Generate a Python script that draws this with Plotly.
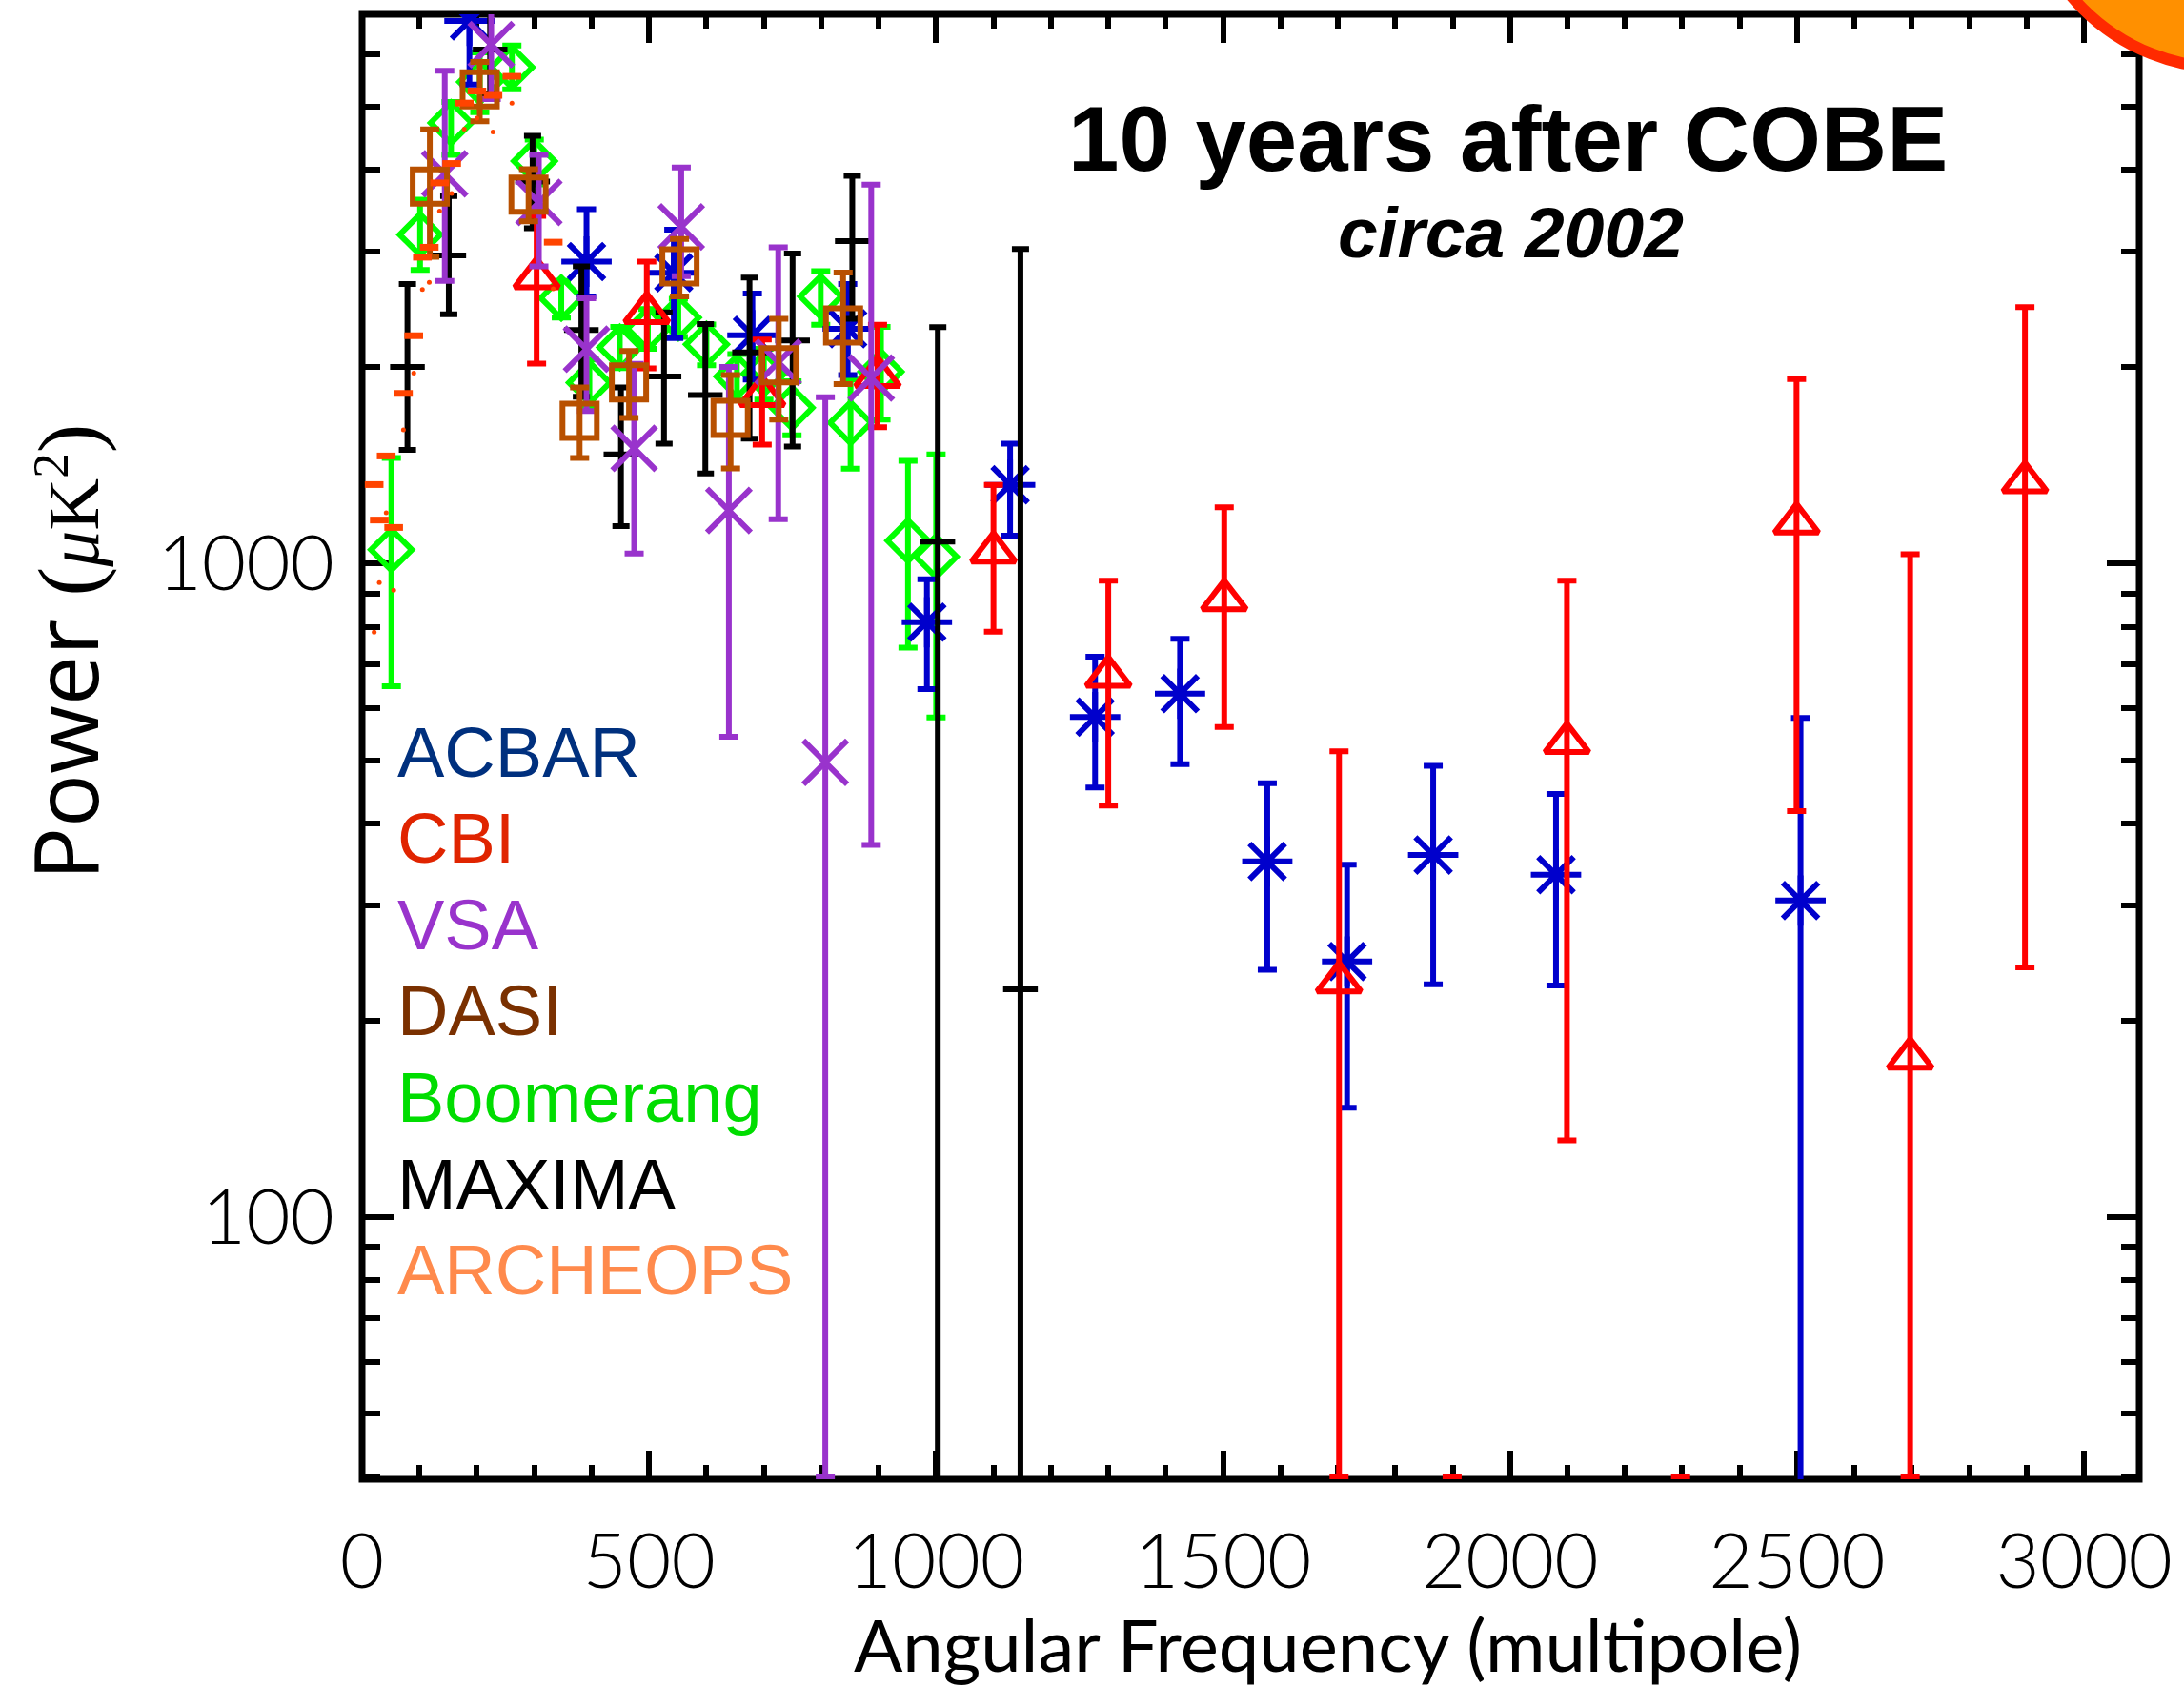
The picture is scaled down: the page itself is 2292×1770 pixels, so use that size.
import plotly.graph_objects as go

# ---------------- data (multipole l, power, upper bound, lower bound) ----------------
acbar_l  = [187, 391, 543, 680, 846, 984, 1129, 1277, 1425, 1577, 1716, 1866, 2080, 2506]
acbar_p  = [6760, 2895, 2784, 2234, 2285, 813, 1319, 582, 632, 350, 246, 358, 334, 305]
acbar_hi = [9000, 3483, 3240, 2588, 2676, 946, 1524, 720, 767, 461, 346, 490, 444, 580]
acbar_lo = [5400, 2560, 2211, 1910, 1941, 642, 1103, 454, 493, 239, 147, 227, 226, 10]

cbi_l  = [304, 496, 697, 898, 1100, 1300, 1502, 1702, 1899, 2099, 2297, 2499, 2697, 2897]
cbi_p  = [2735, 2420, 1806, 1932, 1041, 672, 880, 229, 20, 532, 20, 1153, 175, 1333]
cbi_hi = [3400, 2895, 2201, 2317, 1318, 941, 1219, 516, 40, 941, 40, 1914, 1033, 2466]
cbi_lo = [2021, 1987, 1519, 1615, 786, 426, 562, 40, 10, 131, 10, 418, 40, 241]

vsa_l  = [144, 225, 308, 391, 474, 556, 639, 725, 807, 887]
vsa_p  = [3945, 6218, 3565, 2126, 1500, 3272, 1205, 2030, 496, 1921]
vsa_hi = [5672, 9000, 4218, 2544, 2020, 4034, 1998, 3045, 1795, 3795]
vsa_lo = [2704, 5133, 2846, 1710, 1035, 2750, 543, 1168, 40, 371]

dasi_l  = [118, 205, 290, 379, 465, 553, 642, 726, 838]
dasi_p  = [3770, 5310, 3665, 1652, 1891, 2846, 1669, 2010, 2311]
dasi_hi = [4613, 5850, 4010, 1858, 2114, 3134, 1942, 2366, 2786]
dasi_lo = [2943, 4746, 3335, 1450, 1669, 2560, 1397, 1660, 1880]

boom_l  = [51, 101, 155, 205, 261, 300, 347, 396, 449, 498, 551, 600, 653, 700, 749, 799, 851, 904, 951, 1000]
boom_p  = [1049, 3184, 4720, 5450, 5740, 4125, 2547, 1890, 2140, 2286, 2377, 2163, 1931, 1950, 1730, 2560, 1641, 1964, 1083, 1024]
boom_hi = [1450, 3600, 5080, 6050, 6200, 4450, 2705, 2050, 2300, 2450, 2540, 2320, 2090, 2130, 1900, 2800, 1911, 2300, 1435, 1468]
boom_lo = [649, 2812, 4218, 4900, 5310, 3800, 2377, 1740, 1990, 2130, 2220, 2010, 1780, 1780, 1570, 2318, 1396, 1660, 743, 581]

maxima_l  = [79, 151, 223, 297, 382, 451, 526, 598, 675, 750, 854, 1003, 1147]
maxima_p  = [1998, 2958, 6110, 3838, 2275, 1468, 1932, 1810, 2102, 2192, 3112, 1080, 223]
maxima_hi = [2676, 3648, 7400, 4511, 2846, 1858, 2421, 2323, 2736, 2979, 3917, 2299, 3026]
maxima_lo = [1492, 2404, 5225, 3257, 1798, 1140, 1524, 1373, 1552, 1509, 2366, 10, 10]

archeops_l  = [21, 30, 42, 55, 72, 90, 105, 117, 135, 156, 178, 200, 228, 261, 333]
archeops_hi = [1320, 1165, 1460, 1135, 1820, 2230, 2940, 3045, 3820, 4090, 5060, 5280, 5200, 5560, 3100]
archeops_lo = [785, 935, 1195, 910, 1600, 1955, 2625, 2690, 3460, 3680, 4615, 4800, 4570, 5060, 2630]

x_ticks = [0, 500, 1000, 1500, 2000, 2500, 3000]

legend_names  = ["ACBAR", "CBI", "VSA", "DASI", "Boomerang", "MAXIMA", "ARCHEOPS"]
legend_colors = ["#00307E", "#E02400", "#9933CC", "#7A3000", "#00DD00", "#000000", "#FF8A4C"]

C_ACBAR, C_CBI, C_VSA, C_DASI, C_BOOM, C_MAX, C_ARCH = (
    "#0000CC", "#FF0000", "#9933CC", "#B85000", "#00FF00", "#000000", "#FF4400")

# ---------------- figure ----------------
W, H = 2292, 1770
ML, MR, MT, MB = 380, 42, 15, 218
PW, PH = W - ML - MR, H - MT - MB


def px(X):
    return (X - ML) / PW


def py(Y):
    return (H - MB - Y) / PH


def err(p, hi, lo):
    return [h - v for h, v in zip(hi, p)], [v - l for v, l in zip(p, lo)]


fig = go.Figure()


def add_series(l, p, hi, lo, color, symbol, size, mlw, capw=10):
    plus, minus = err(p, hi, lo)
    fig.add_trace(go.Scatter(
        x=l, y=p, mode="markers", showlegend=False,
        marker=dict(symbol=symbol, size=size, color=color,
                    line=dict(color=color, width=mlw)),
        error_y=dict(type="data", symmetric=False, array=plus, arrayminus=minus,
                     color=color, thickness=6, width=capw),
    ))


add_series(boom_l, boom_p, boom_hi, boom_lo, C_BOOM, "diamond-open", 33, 6)
add_series(acbar_l, acbar_p, acbar_hi, acbar_lo, C_ACBAR, "asterisk-open", 44, 6)
add_series(maxima_l, maxima_p, maxima_hi, maxima_lo, C_MAX, "line-ew", 26, 6, capw=9)
add_series(cbi_l, cbi_p, cbi_hi, cbi_lo, C_CBI, "triangle-up-open", 40, 6)
add_series(vsa_l, vsa_p, vsa_hi, vsa_lo, C_VSA, "x-thin-open", 46, 6)
add_series(dasi_l, dasi_p, dasi_hi, dasi_lo, C_DASI, "square-open", 36, 6)

# ARCHEOPS: short dashes at the upper end, small dots at the lower end
fig.add_trace(go.Scatter(
    x=archeops_l, y=archeops_hi, mode="markers", showlegend=False,
    marker=dict(symbol="line-ew", size=14, color=C_ARCH, line=dict(color=C_ARCH, width=7)),
))
fig.add_trace(go.Scatter(
    x=archeops_l, y=archeops_lo, mode="markers", showlegend=False,
    marker=dict(symbol="circle", size=5, color=C_ARCH, line=dict(width=0)),
))

tickfont = dict(family="Lato", size=80, color="black", weight=300)

fig.update_xaxes(
    range=[0, PW / 0.604], tickmode="array", tickvals=x_ticks,
    ticktext=[str(v) for v in x_ticks],
    ticks="inside", ticklen=30, tickwidth=6, tickcolor="black",
    minor=dict(ticks="inside", dtick=100, tick0=0, ticklen=15, tickwidth=6, tickcolor="black"),
    mirror="allticks", showline=False, showgrid=False, zeroline=False,
    tickfont=tickfont, ticklabelstandoff=33, layer="below traces",
)
fig.update_yaxes(
    type="log", range=[1.599, 3.840], dtick=1, tickformat="d",
    ticks="inside", ticklen=34, tickwidth=6, tickcolor="black",
    minor=dict(ticks="inside", dtick="D1", ticklen=19, tickwidth=6, tickcolor="black"),
    mirror="allticks", showline=False, showgrid=False, zeroline=False,
    tickfont=tickfont, ticklabelstandoff=28, layer="below traces",
)

shapes = [
    dict(type="rect", xref="paper", yref="paper", x0=0, x1=1, y0=0, y1=1,
         line=dict(color="black", width=7), layer="below"),
    dict(type="circle", xref="paper", yref="paper",
         x0=px(2340 - 211), x1=px(2340 + 211), y0=py(-140 + 211), y1=py(-140 - 211),
         line=dict(color="#FF2A00", width=12), fillcolor="#FF9000", layer="above"),
]

paren = "font-family:'Liberation Serif';font-size:92px;"
unit = "font-family:'Liberation Serif';font-size:76px;"
annotations = [
    dict(text="<b>10 years after COBE</b>", x=px(1586), y=py(146),
         font=dict(family="Liberation Sans", size=96, color="black")),
    dict(text="<b><i>circa 2002</i></b>", x=px(1589), y=py(244),
         font=dict(family="Liberation Sans", size=75, color="black")),
    dict(text="Angular Frequency (multipole)", x=px(1396), y=py(1724),
         font=dict(family="Lato", size=76, color="black")),
    dict(text=("Power\u00a0<span style=\"" + paren + "\">(</span>"
               "<span style=\"" + unit + "\"><i>\u03bc</i>K<sup>2</sup></span>"
               "<span style=\"" + paren + "\">)</span>"),
         x=px(66), y=py(684), textangle=-90,
         font=dict(family="Open Sans", size=93, color="black")),
]
for i, (name, col) in enumerate(zip(legend_names, legend_colors)):
    annotations.append(dict(text=name, x=px(415), y=py(789 + 90.6 * i), xanchor="left",
                            font=dict(family="Liberation Sans", size=74, color=col)))

for a in annotations:
    a.setdefault("xanchor", "center")
    a.update(xref="paper", yref="paper", yanchor="middle", showarrow=False)

fig.update_layout(
    width=W, height=H, margin=dict(l=ML, r=MR, t=MT, b=MB),
    paper_bgcolor="white", plot_bgcolor="white",
    shapes=shapes, annotations=annotations, showlegend=False,
)

fig.write_html("out.html")
